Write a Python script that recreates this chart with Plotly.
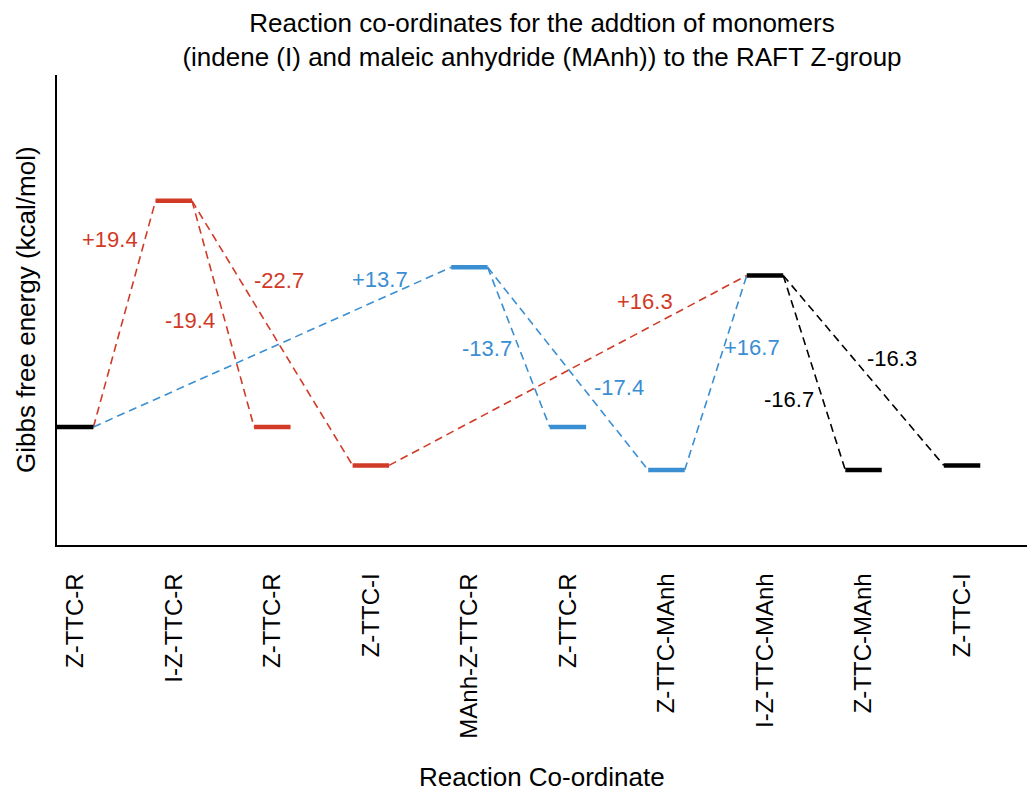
import plotly.graph_objects as go

# Species along the reaction coordinate (one column each)
states = ["Z-TTC-R", "I-Z-TTC-R", "Z-TTC-R", "Z-TTC-I", "MAnh-Z-TTC-R",
          "Z-TTC-R", "Z-TTC-MAnh", "I-Z-TTC-MAnh", "Z-TTC-MAnh", "Z-TTC-I"]
state_path = ["ref", "I", "I", "I", "MAnh", "MAnh", "MAnh", "both", "both", "both"]

# Elementary steps: source index, target index, free-energy change (kcal/mol), pathway
step_from = [0, 1, 1, 3, 0, 4, 4, 6, 7, 7]
step_to = [1, 2, 3, 7, 4, 5, 6, 7, 8, 9]
step_dg = [19.4, -19.4, -22.7, 16.3, 13.7, -13.7, -17.4, 16.7, -16.7, -16.3]
step_path = ["I", "I", "I", "I", "MAnh", "MAnh", "MAnh", "MAnh", "both", "both"]

# Label offsets (px) relative to each connector's midpoint
label_dx = [-15, -33.5, 6.5, 77, 107.5, -32, 51.5, 36.5, -25, 28]
label_dy = [74, -7, 53, 68.5, 68, -1, -19, 25, -27, 11.5]

colors = {"ref": "#000000", "both": "#000000", "I": "#D13A27", "MAnh": "#3A8ED2"}
FONT = "Liberation Sans, Arial, sans-serif"
HALF = 0.185  # half-width of each level bar in category units

# Relative free energies from the step changes, starting at 0 for Z-TTC-R
level = [None] * len(states)
level[0] = 0.0
for _ in range(len(states)):
    for a, b, d in zip(step_from, step_to, step_dg):
        if level[a] is not None and level[b] is None:
            level[b] = round(level[a] + d, 2)

xpos = list(range(1, len(states) + 1))

fig = go.Figure()

# Dashed connectors between the end of one level and the start of the next
annotations = []
for a, b, d, p, dx, dy in zip(step_from, step_to, step_dg, step_path, label_dx, label_dy):
    x0, y0 = xpos[a] + HALF, level[a]
    x1, y1 = xpos[b] - HALF, level[b]
    fig.add_trace(go.Scatter(
        x=[x0, x1], y=[y0, y1], mode="lines",
        line=dict(color=colors[p], width=1.6, dash="8px,5px"),
        hoverinfo="skip", showlegend=False))
    annotations.append(dict(
        x=(x0 + x1) / 2, y=(y0 + y1) / 2, xref="x", yref="y",
        text=f"{d:+.1f}", showarrow=False, xshift=dx, yshift=dy,
        font=dict(family=FONT, size=22, color=colors[p])))

# Energy level bars
for x, y, p in zip(xpos, level, state_path):
    fig.add_trace(go.Scatter(
        x=[x - HALF, x + HALF], y=[y, y], mode="lines",
        line=dict(color=colors[p], width=4.5),
        hoverinfo="skip", showlegend=False))

# Axis titles
annotations.append(dict(
    x=0.5, y=0, xref="paper", yref="paper", yshift=-232, yanchor="middle",
    text="Reaction Co-ordinate", showarrow=False,
    font=dict(family=FONT, size=26, color="#000000")))
annotations.append(dict(
    x=0, y=0.5, xref="paper", yref="paper", xshift=-31, xanchor="center",
    text="Gibbs free energy (kcal/mol)", showarrow=False, textangle=-90,
    font=dict(family=FONT, size=26, color="#000000")))

fig.update_layout(
    width=1027, height=791,
    margin=dict(l=57, r=0, t=75, b=246),
    paper_bgcolor="white", plot_bgcolor="white",
    title=dict(
        text="Reaction co-ordinates for the addtion of monomers<br>"
             "(indene (I) and maleic anhydride (MAnh)) to the RAFT Z-group",
        x=0.5, xref="paper", xanchor="center",
        y=1 - 32 / 791, yref="container", yanchor="middle",
        font=dict(family=FONT, size=26, color="#000000")),
    annotations=annotations,
    xaxis=dict(
        range=[1 - HALF, 10.659], tickmode="array", tickvals=xpos, ticktext=states,
        tickangle=-90, showgrid=False, zeroline=False, showline=True,
        linecolor="#000000", linewidth=1.5, ticks="", ticklabelstandoff=17,
        tickfont=dict(family=FONT, size=24, color="#000000"), automargin=False),
    yaxis=dict(
        range=[-10.13, 30.2], showticklabels=False, showgrid=False,
        zeroline=False, showline=True, linecolor="#000000", linewidth=1.5,
        ticks="", automargin=False),
)

fig.write_html("out.html")
